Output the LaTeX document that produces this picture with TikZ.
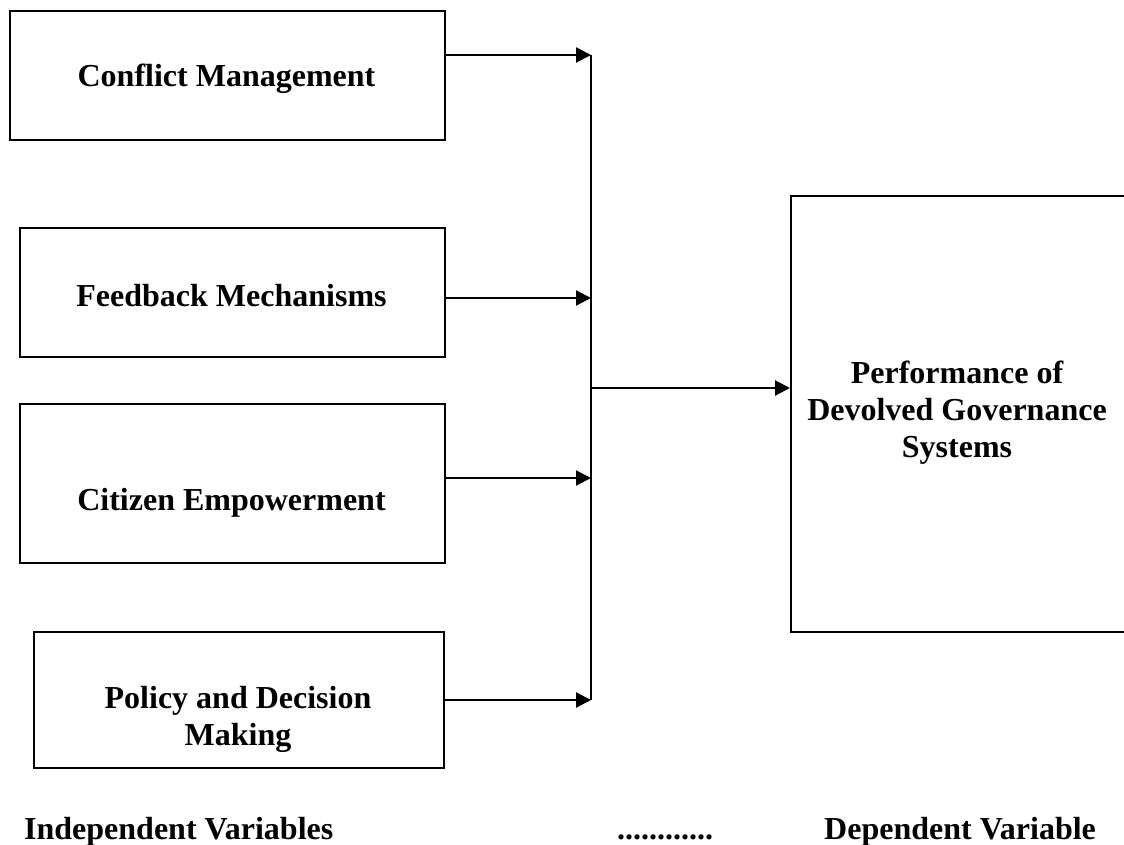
\documentclass[tikz,border=0pt]{standalone}
\usepackage{fontspec}
\setmainfont{Liberation Serif}
\usetikzlibrary{arrows.meta}
\begin{document}
\begin{tikzpicture}[x=1pt,y=-1pt,
  box/.style={draw=black,line width=1.6pt,fill=white,inner sep=0pt},
  lbl/.style={font=\bfseries\fontsize{32}{37}\selectfont,align=center,inner sep=0pt},
  arr/.style={line width=2.2pt,-{Triangle[length=15pt,width=15pt]}},
  vline/.style={line width=1.8pt}]
\clip (0,0) rectangle (1124,845);
\fill[white] (0,0) rectangle (1124,845);
% boxes
\node[box,minimum width=435pt,minimum height=129pt,anchor=north west] (c1) at (9,10) {};
\node[box,minimum width=425pt,minimum height=129pt,anchor=north west] (c2) at (19,227) {};
\node[box,minimum width=425pt,minimum height=159pt,anchor=north west] (c3) at (19,403) {};
\node[box,minimum width=410pt,minimum height=136pt,anchor=north west] (c4) at (33,631) {};
\node[box,minimum width=350pt,minimum height=436pt,anchor=north west] (dv) at (790,195) {};
% texts
\node[lbl,anchor=base] (t1) at (226.5,87) {Conflict Management};
\node[lbl,anchor=base] (t2) at (231.5,306) {Feedback Mechanisms};
\node[lbl,anchor=base] (t3) at (231.5,510) {Citizen Empowerment};
\node[lbl,anchor=north] (t4) at (238,686) {Policy and Decision\\Making};
\node[lbl,anchor=north] (t5) at (957,361) {Performance of\\Devolved Governance\\Systems};
% junction points
\coordinate (j1) at (591,55);
\coordinate (j2) at (591,298);
\coordinate (j3) at (591,478);
\coordinate (j4) at (591,700);
\coordinate (jm) at (591,388);
\draw[vline] (j1) -- (j4);
\draw[arr] (c1.east |- j1) -- (j1);
\draw[arr] (c2.east |- j2) -- (j2);
\draw[arr] (c3.east |- j3) -- (j3);
\draw[arr] (c4.east |- j4) -- (j4);
\draw[arr] (jm) -- (dv.west |- jm);
% bottom labels
\node[lbl,anchor=base west] (iv) at (24,839) {Independent Variables};
\node[lbl,anchor=base west] (dots) at (617,839) {............};
\node[lbl,anchor=base west] (dvl) at (824,839) {Dependent Variable};
\end{tikzpicture}
\end{document}
